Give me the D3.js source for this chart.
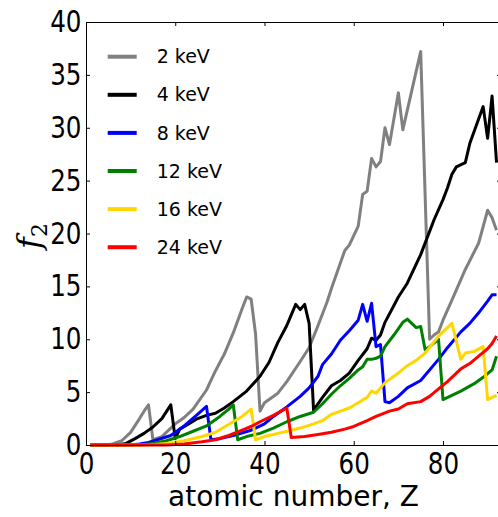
<!DOCTYPE html>
<html>
<head>
<meta charset="utf-8">
<script src="https://cdn.jsdelivr.net/npm/d3@7"></script>
<style>
  body { margin: 0; background: #fff; }
  svg { display: block; }
  .tick text { font-family: "DejaVu Sans", sans-serif; font-size: 30px; fill: #000; }
</style>
</head>
<body>
<svg class="f2_chart" width="498" height="517"></svg>
<script>
// legend labels + colours (matplotlib gray/k/b/g/gold/r)
var energies = ["2 keV", "4 keV", "8 keV", "12 keV", "16 keV", "24 keV"];
var colors = ["#808080", "#000000", "#0000ff", "#008000", "#ffd700", "#ff0000"];

var xTicks = [0, 20, 40, 60, 80];
var yTicks = [0, 5, 10, 15, 20, 25, 30, 35, 40];

// f2, per energy (Z list + f2 list)
var z_2keV  = [1, 4, 6, 8, 10, 12, 13, 14, 15, 17, 20, 22, 24, 27, 29, 31, 33, 35, 36, 37, 38, 39, 40, 43, 45, 48, 50, 52, 54, 55, 57, 58, 59, 61, 62, 63, 64, 65, 66, 67, 68, 70, 71, 75, 77, 78, 79, 80, 82, 85, 88, 90, 91, 92];
var f2_2keV = [0, 0, 0.1, 0.4, 1.2, 2.5, 3.2, 3.8, 0.5, 0.8, 2.0, 2.6, 3.4, 5.2, 7.0, 8.6, 10.6, 12.9, 14.0, 13.8, 10.5, 3.2, 4.0, 4.9, 6.0, 7.9, 9.2, 11.3, 13.5, 14.8, 17.2, 18.4, 18.9, 20.7, 23.7, 24.0, 27.1, 26.3, 26.8, 30.0, 28.4, 33.3, 29.8, 37.2, 10.0, 10.4, 10.7, 11.8, 13.7, 16.6, 19.1, 22.2, 21.5, 20.3];

var z_4keV  = [1, 7, 9, 11, 13, 15, 17, 19, 20, 21, 23, 25, 27, 29, 31, 33, 36, 39, 41, 43, 45, 46, 47, 48, 49, 50, 51, 53, 55, 57, 59, 61, 63, 64, 65, 66, 67, 70, 72, 75, 78, 80, 81, 82, 83, 85, 86, 89, 90, 91, 92];
var f2_4keV = [0, 0, 0.15, 0.6, 1.1, 1.7, 2.5, 3.8, 0.6, 1.5, 2.0, 2.5, 2.8, 3.0, 3.5, 4.1, 5.1, 6.5, 7.8, 9.7, 11.3, 12.3, 13.3, 12.8, 13.3, 11.5, 3.3, 4.5, 5.6, 6.1, 6.8, 8.0, 9.1, 10.1, 9.9, 10.4, 11.6, 14.0, 15.3, 18.0, 21.3, 23.2, 24.3, 25.6, 26.3, 26.7, 28.5, 32.0, 29.0, 33.0, 26.7];

var z_8keV  = [1, 10, 12, 14, 16, 19, 22, 25, 27, 28, 30, 33, 37, 40, 42, 45, 48, 50, 52, 53, 55, 57, 59, 61, 62, 63, 64, 65, 66, 67, 68, 70, 72, 75, 79, 81, 84, 86, 88, 90, 91, 92];
var f2_8keV = [0, 0, 0.1, 0.25, 0.5, 0.9, 1.8, 2.9, 3.65, 0.5, 0.6, 0.9, 1.4, 2.0, 2.7, 3.6, 4.6, 5.4, 6.5, 7.6, 8.6, 9.9, 10.8, 11.8, 13.3, 11.7, 13.4, 9.3, 9.5, 4.1, 4.0, 4.6, 5.4, 6.1, 8.1, 9.2, 10.7, 11.5, 12.5, 13.6, 14.2, 14.2];

var z_12keV  = [1, 12, 15, 18, 21, 24, 27, 30, 32, 33, 34, 36, 39, 42, 45, 48, 51, 53, 55, 57, 59, 61, 62, 63, 64, 65, 66, 67, 69, 71, 72, 73, 74, 75, 76, 77, 79, 80, 82, 84, 87, 89, 91, 92];
var f2_12keV = [0, 0, 0.15, 0.4, 0.8, 1.3, 1.8, 2.7, 3.4, 3.8, 0.5, 0.8, 1.1, 1.6, 2.2, 2.7, 3.1, 3.9, 4.8, 5.6, 6.3, 7.1, 7.4, 8.1, 8.1, 8.2, 8.4, 9.3, 10.4, 11.6, 11.9, 11.5, 11.1, 11.2, 9.0, 9.3, 10.0, 4.3, 4.7, 5.1, 5.8, 6.4, 7.1, 8.4];

var z_16keV  = [1, 14, 18, 22, 26, 29, 31, 33, 35, 37, 38, 40, 43, 46, 48, 51, 53, 55, 57, 59, 61, 63, 64, 65, 67, 70, 72, 74, 76, 79, 82, 84, 85, 87, 89, 90, 91, 92];
var f2_16keV = [0, 0, 0.15, 0.4, 0.8, 1.2, 1.7, 2.2, 2.7, 3.4, 0.5, 0.8, 1.1, 1.4, 1.6, 2.0, 2.3, 2.9, 3.2, 3.5, 4.0, 4.5, 5.1, 4.9, 5.9, 6.8, 7.5, 8.0, 8.7, 10.3, 11.5, 8.1, 8.7, 8.85, 9.3, 4.3, 4.5, 4.7];

var z_24keV  = [1, 18, 22, 26, 29, 32, 35, 37, 39, 42, 45, 46, 49, 52, 55, 58, 60, 63, 65, 68, 70, 72, 75, 77, 79, 81, 84, 86, 88, 90, 91, 92];
var f2_24keV = [0, 0, 0.1, 0.3, 0.5, 0.9, 1.4, 1.75, 2.2, 2.8, 3.5, 0.7, 0.8, 1.0, 1.2, 1.5, 1.75, 2.3, 2.7, 3.2, 3.4, 3.9, 4.1, 4.6, 5.3, 6.0, 7.2, 7.7, 8.4, 9.1, 9.6, 10.3];

var zLists = [z_2keV, z_4keV, z_8keV, z_12keV, z_16keV, z_24keV];
var f2Lists = [f2_2keV, f2_4keV, f2_8keV, f2_12keV, f2_16keV, f2_24keV];

var margin = { top: 22, right: -3, bottom: 72, left: 86 };
var svg = d3.select(".f2_chart");
var width = 415, height = +svg.attr("height") - margin.top - margin.bottom;
var squeeze = 0.82; // tick digits in the picture are narrow

var xScale = d3.scaleLinear().domain([0, 93]).range([0, width]);
var yScale = d3.scaleLinear().domain([0, 40]).range([height, 0]);

var g = svg.append("g")
    .attr("transform", "translate(" + margin.left + "," + margin.top + ")");

var line = d3.line()
    .x(function (d) { return xScale(d[0]); })
    .y(function (d) { return yScale(d[1]); });

// curves, drawn in legend order so red ends up on top
energies.forEach(function (e, i) {
    var pts = zLists[i].map(function (z, j) { return [z, f2Lists[i][j]]; });
    g.append("path")
        .datum(pts)
        .attr("fill", "none")
        .attr("stroke", colors[i])
        .attr("stroke-width", 3)
        .attr("stroke-linejoin", "round")
        .attr("d", line);
});

// axes: ticks point inwards, mirrored on top/right
var xAxis = d3.axisBottom(xScale).tickValues(xTicks).tickSizeInner(-4).tickSizeOuter(0).tickPadding(10);
var yAxis = d3.axisLeft(yScale).tickValues(yTicks).tickSizeInner(-4).tickSizeOuter(0).tickPadding(4);

g.append("g").attr("class", "axis-x")
    .attr("transform", "translate(0," + height + ")")
    .call(xAxis);
g.append("g").attr("class", "axis-y").call(yAxis);
g.append("g").attr("class", "axis-top")
    .call(d3.axisTop(xScale).tickValues(xTicks).tickSizeInner(-4).tickSizeOuter(0).tickFormat(""));
g.append("g").attr("class", "axis-right")
    .attr("transform", "translate(" + width + ",0)")
    .call(d3.axisRight(yScale).tickValues(yTicks).tickSizeInner(-4).tickSizeOuter(0).tickFormat(""));

g.selectAll(".domain").attr("stroke", "#000").attr("stroke-width", 1);
g.selectAll(".tick line").attr("stroke", "#000");
g.select(".axis-x").selectAll(".tick text")
    .attr("y", 8)
    .attr("dy", "0.71em")
    .attr("transform", "scale(" + squeeze + ",1)");
g.select(".axis-y").selectAll(".tick text")
    .attr("x", -4.5 / squeeze)
    .attr("transform", "scale(" + squeeze + ",1)");

// legend (no frame)
var legend = g.append("g").attr("transform", "translate(21.7,34.7)");
energies.forEach(function (e, i) {
    var row = legend.append("g").attr("transform", "translate(0," + (i * 38.1) + ")");
    row.append("line")
        .attr("x1", 0).attr("x2", 29)
        .attr("stroke", colors[i]).attr("stroke-width", 4);
    row.append("text")
        .attr("x", 49).attr("dy", "0.35em")
        .style("font-family", "DejaVu Sans, sans-serif")
        .style("font-size", "19px")
        .text(e);
});

// axis titles
svg.append("text")
    .attr("x", margin.left + width / 2)
    .attr("y", 506)
    .attr("text-anchor", "middle")
    .style("font-family", "DejaVu Sans, sans-serif")
    .style("font-size", "28px")
    .text("atomic number, Z");

var ylab = svg.append("text")
    .attr("transform", "translate(40,236) rotate(-90)")
    .attr("text-anchor", "middle")
    .style("font-family", "DejaVu Serif, serif")
    .style("font-style", "italic")
    .style("font-size", "32px");
ylab.append("tspan").text("f");
ylab.append("tspan").attr("dy", "0.3em").style("font-size", "22px").style("font-style", "normal").text("2");
</script>
</body>
</html>
